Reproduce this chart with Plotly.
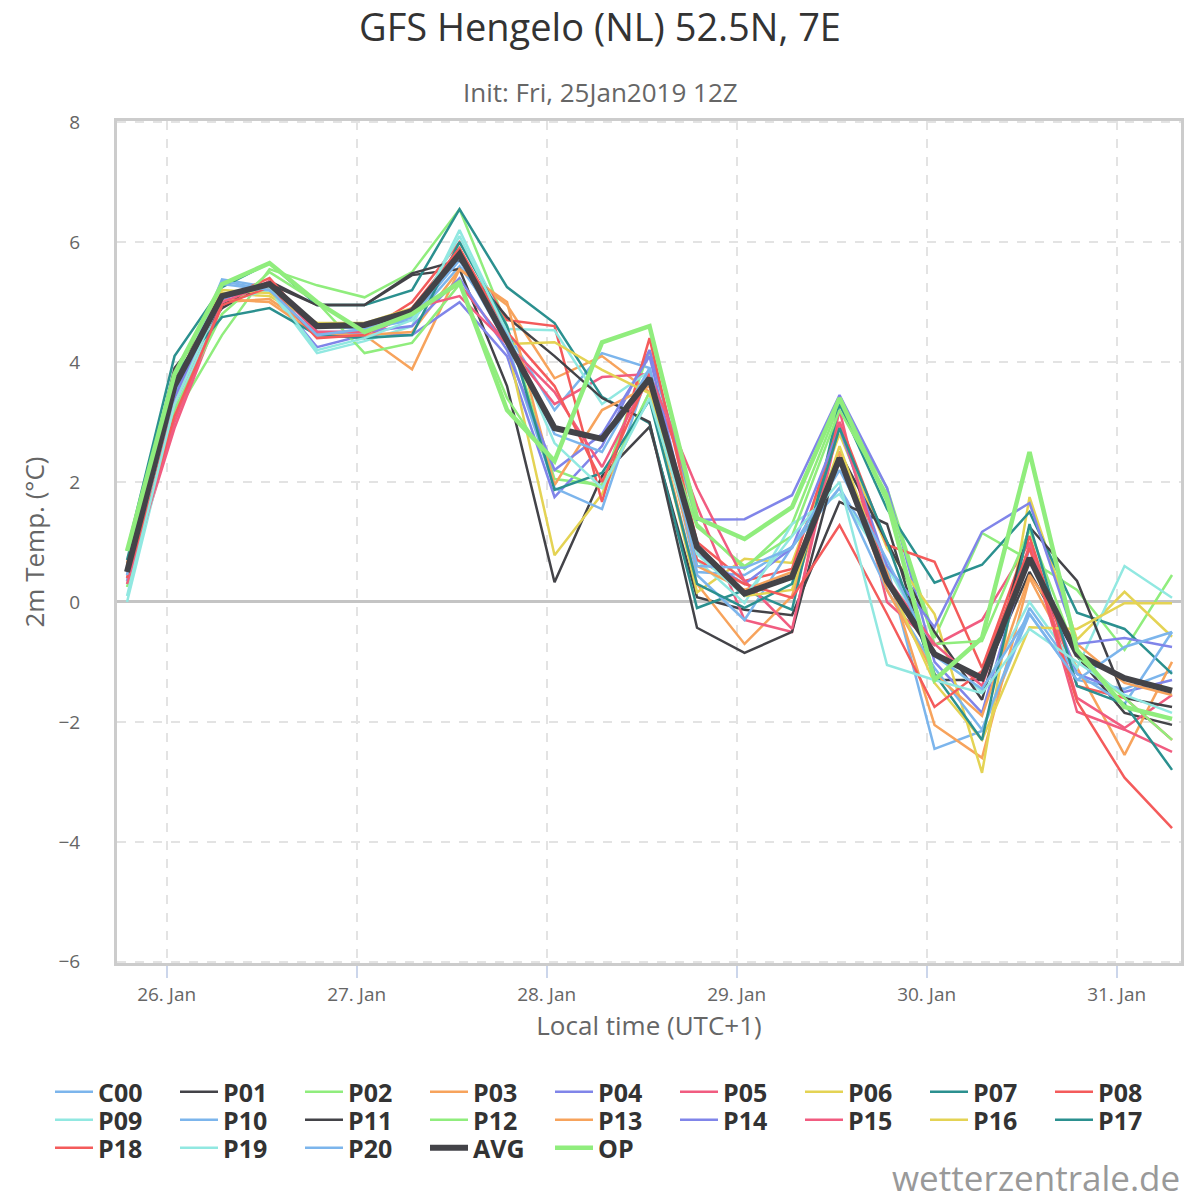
import pandas as pd
import plotly.graph_objects as go

# 6-hourly steps in local time (UTC+1), init 25 Jan 2019 12Z
times = pd.date_range("2019-01-25 19:00", periods=23, freq="6h")

c00 = [0.40, 3.45, 5.38, 5.25, 4.60, 4.55, 4.70, 5.60, 4.50, 3.20, 4.15, 3.90, 0.50, 0.45, 0.92, 1.90, 0.60, -2.45, -2.15, -0.20, -1.30, -1.45, -1.15]
p01 = [0.55, 3.90, 4.90, 5.35, 4.95, 4.95, 5.45, 5.55, 3.60, 0.33, 2.10, 2.92, 0.08, -0.13, -0.22, 1.67, 1.30, -1.30, -1.30, 0.50, -0.90, -1.85, -2.05]
p02 = [0.30, 3.10, 4.45, 5.55, 5.28, 5.08, 5.50, 6.55, 4.60, 2.05, 1.95, 4.20, 1.30, 0.55, 1.30, 3.30, 1.90, -0.60, 1.15, 0.70, 0.20, -0.80, 0.45]
p03 = [0.60, 3.50, 5.00, 5.05, 4.50, 4.45, 3.88, 5.55, 4.95, 3.73, 4.10, 3.50, 0.30, -0.70, 0.10, 2.50, 0.50, -2.05, -2.60, 0.40, -1.10, -2.55, -1.00]
p04 = [0.45, 3.40, 5.10, 5.20, 4.25, 4.45, 4.45, 5.00, 4.10, 1.75, 2.60, 4.20, 1.37, 1.38, 1.78, 3.45, 1.90, -1.00, -1.85, 0.90, -1.20, -1.50, -1.30]
p05 = [0.35, 2.90, 4.95, 5.35, 4.50, 4.40, 4.85, 5.30, 4.30, 3.30, 3.75, 3.80, 1.60, -0.30, -0.50, 3.20, 0.00, -0.72, -0.30, 1.00, -1.60, -2.10, -1.55]
p06 = [0.50, 3.60, 5.15, 5.10, 4.65, 4.60, 4.80, 5.90, 4.30, 0.78, 1.80, 3.50, 0.16, 0.72, 0.65, 2.80, 0.90, -0.20, -2.85, 1.75, -0.63, 0.17, -0.58]
p07 = [0.85, 4.10, 5.25, 5.65, 4.95, 4.95, 5.20, 6.55, 5.25, 4.65, 3.42, 2.98, -0.10, 0.20, -0.13, 3.30, 1.55, 0.32, 0.62, 1.50, -0.18, -0.45, -1.20]
p08 = [0.50, 3.30, 5.05, 5.40, 4.50, 4.50, 5.00, 6.00, 4.70, 4.60, 1.67, 4.40, 1.00, 0.35, 0.55, 3.00, 0.95, 0.67, -1.10, 1.10, -1.40, -1.60, -2.30]
p09 = [0.00, 3.20, 5.00, 5.20, 4.15, 4.35, 4.60, 6.20, 4.55, 4.53, 3.30, 3.85, 0.70, -0.02, 1.30, 1.80, 0.60, -0.85, -1.50, 0.00, -1.10, 0.60, 0.07]
p10 = [0.35, 3.50, 5.30, 5.20, 4.45, 4.50, 4.75, 5.70, 4.30, 1.90, 1.55, 3.90, 0.45, -0.30, 0.92, 1.90, 0.20, -1.10, -2.13, -0.10, -1.20, -1.70, -0.50]
p11 = [0.50, 3.70, 4.95, 5.30, 4.95, 4.95, 5.48, 5.70, 4.75, 4.10, 3.40, 3.00, -0.43, -0.85, -0.50, 2.50, 1.00, -0.50, -1.63, 1.25, 0.35, -1.60, -1.75]
p12 = [0.25, 3.20, 4.80, 5.50, 5.00, 4.15, 4.32, 5.30, 3.40, 2.20, 1.90, 3.50, 1.25, 0.60, 1.10, 3.20, 1.80, -0.70, -0.65, 1.20, -0.90, -1.60, -2.30]
p13 = [0.65, 3.50, 5.05, 5.00, 4.45, 4.45, 4.50, 5.55, 5.00, 1.95, 3.20, 3.60, 0.60, 0.20, 0.50, 2.50, 0.20, -1.20, -1.90, 0.45, -0.70, -1.35, -1.55]
p14 = [0.50, 3.45, 5.05, 5.30, 4.50, 4.50, 4.60, 5.40, 4.20, 2.20, 2.80, 4.10, 0.80, 0.30, 0.90, 2.90, 0.60, -0.42, 1.17, 1.65, -0.70, -0.60, -0.75]
p15 = [0.30, 3.00, 5.00, 5.30, 4.50, 4.50, 4.90, 5.10, 4.30, 3.50, 2.25, 3.80, 1.90, 0.35, -0.45, 3.00, 0.40, -0.70, -1.40, 0.95, -1.83, -2.13, -2.50]
p16 = [0.55, 3.65, 5.20, 5.15, 4.65, 4.65, 4.90, 5.85, 4.30, 4.33, 3.87, 3.48, 0.90, 0.10, 0.20, 2.60, 0.40, -1.35, -2.30, -0.42, -0.45, -0.02, -0.02]
p17 = [0.70, 3.80, 4.75, 4.90, 4.45, 4.40, 4.45, 6.00, 4.60, 1.87, 2.15, 3.37, 0.30, -0.10, 0.30, 2.90, 1.00, -1.20, -2.30, 1.30, -1.40, -1.70, -2.80]
p18 = [0.40, 3.10, 4.95, 5.25, 4.40, 4.45, 4.90, 5.90, 4.50, 3.60, 2.00, 3.80, 0.70, 0.30, 0.07, 1.28, -0.20, -1.75, -1.15, 0.90, -1.66, -2.93, -3.77]
p19 = [0.10, 3.30, 5.10, 5.25, 4.20, 4.40, 4.70, 6.10, 4.50, 2.65, 1.90, 3.40, 0.80, 0.10, 1.10, 2.00, -1.05, -1.30, -1.52, -0.45, -1.00, -1.55, -1.85]
p20 = [0.45, 3.50, 5.35, 5.20, 4.45, 4.55, 4.80, 5.75, 4.45, 2.80, 2.50, 3.90, 0.60, 0.57, 0.90, 2.20, 0.70, -0.90, -1.45, -0.20, -1.30, -0.75, -0.50]
avg = [0.50, 3.60, 5.10, 5.30, 4.60, 4.62, 4.85, 5.80, 4.35, 2.90, 2.72, 3.73, 0.92, 0.14, 0.42, 2.40, 0.35, -0.87, -1.27, 0.73, -0.87, -1.27, -1.48]
op = [0.85, 3.80, 5.30, 5.65, 5.00, 4.50, 4.80, 5.33, 3.20, 2.35, 4.33, 4.60, 1.40, 1.05, 1.58, 3.40, 1.70, -1.30, -0.60, 2.50, -0.80, -1.75, -1.95]

members = [c00, p01, p02, p03, p04, p05, p06, p07, p08, p09, p10,
           p11, p12, p13, p14, p15, p16, p17, p18, p19, p20]
member_names = ["C00"] + [f"P{i:02d}" for i in range(1, 21)]

palette = ["#7cb5ec", "#434348", "#90ed7d", "#f7a35c", "#8085e9",
           "#f15c80", "#e4d354", "#2b908f", "#f45b5b", "#91e8e1"]

FONT = "Open Sans"

# plot area in pixels (for placing the free text)
PLOT_L, PLOT_R, PLOT_T, PLOT_B = 117, 1181, 121, 963
LEGEND_ROWS_Y = [1092, 1120, 1148]
PER_ROW = 9
FIRST_HALF = 5      # each legend row is split in two boxes so it never wraps
COL_W = 125


def px_to_paper_y(ypx):
    return (PLOT_B - ypx) / (PLOT_B - PLOT_T)


def px_to_paper_x(xpx):
    return (xpx - PLOT_L) / (PLOT_R - PLOT_L)


def legend_slot(k):
    row = k // PER_ROW
    half = 0 if k % PER_ROW < FIRST_HALF else 1
    return row, half


def legend_id(k):
    row, half = legend_slot(k)
    num = row * 2 + half + 1
    return "legend" if num == 1 else f"legend{num}"


def legend_box(row, half):
    return dict(orientation="h", xref="container", yref="container",
                x=(50 + half * FIRST_HALF * COL_W) / 1200,
                y=1 - LEGEND_ROWS_Y[row] / 1200,
                xanchor="left", yanchor="middle",
                entrywidth=COL_W - 53, entrywidthmode="pixels", itemwidth=38,
                bgcolor="rgba(0,0,0,0)",
                font=dict(size=25, color="#333333", family=FONT, weight="bold"))


fig = go.Figure()

for i, (name, vals) in enumerate(zip(member_names, members)):
    fig.add_trace(go.Scatter(x=times, y=vals, name=name, mode="lines",
                             legend=legend_id(i),
                             line=dict(color=palette[i % 10], width=2.5)))

n = len(members)
fig.add_trace(go.Scatter(x=times, y=avg, name="AVG", mode="lines",
                         legend=legend_id(n),
                         line=dict(color="#434348", width=6)))
fig.add_trace(go.Scatter(x=times, y=op, name="OP", mode="lines",
                         legend=legend_id(n + 1),
                         line=dict(color="#90ed7d", width=4.5)))

legends = {}
for k in range(n + 2):
    row, half = legend_slot(k)
    legends[legend_id(k)] = legend_box(row, half)

fig.update_layout(
    width=1200, height=1200,
    paper_bgcolor="white", plot_bgcolor="white",
    margin=dict(l=PLOT_L, r=1200 - PLOT_R, t=PLOT_T, b=1200 - PLOT_B),
    font=dict(family=FONT, color="#666666"),
    title=dict(text="GFS Hengelo (NL) 52.5N, 7E", x=0.5, xanchor="center",
               y=1 - 28 / 1200, yanchor="middle",
               font=dict(size=38, color="#333333", family=FONT)),
    showlegend=True,
    annotations=[
        dict(text="Init: Fri, 25Jan2019 12Z", xref="paper", yref="paper",
             x=px_to_paper_x(600), y=px_to_paper_y(92),
             xanchor="center", yanchor="middle",
             showarrow=False, font=dict(size=26, color="#666666", family=FONT)),
        dict(text="wetterzentrale.de", xref="paper", yref="paper",
             x=px_to_paper_x(1182), y=px_to_paper_y(1177),
             xanchor="right", yanchor="middle",
             showarrow=False, font=dict(size=35, color="#999999", family=FONT)),
    ],
    **legends,
)

fig.update_xaxes(
    range=["2019-01-25 17:44", "2019-01-31 08:08"],
    tick0="2019-01-26", dtick=86400000, tickformat="%-d. %b",
    showgrid=True, gridcolor="#e3e3e3", griddash="dash", gridwidth=1.5,
    showline=True, linecolor="#cccccc", linewidth=3, mirror=True,
    ticks="outside", ticklen=12, tickcolor="#ccd6eb", tickwidth=1.5,
    tickfont=dict(size=19, color="#666666"),
    title=dict(text="Local time (UTC+1)", standoff=8,
               font=dict(size=26, color="#666666")),
)

fig.update_yaxes(
    range=[-6.02, 8.02], tick0=-6, dtick=2,
    showgrid=True, gridcolor="#e3e3e3", griddash="dash", gridwidth=1.5,
    zeroline=True, zerolinecolor="#c4c4c4", zerolinewidth=3,
    showline=True, linecolor="#cccccc", linewidth=3, mirror=True,
    ticks="", ticklabelstandoff=30,
    tickfont=dict(size=19, color="#666666"),
    title=dict(text="2m Temp. (°C)", standoff=7,
               font=dict(size=26, color="#666666")),
)

# the page's default body margin would shift the figure by 8px
fig.write_html("out.html", config={"displayModeBar": False},
               post_script="document.body.style.margin='0px';")
